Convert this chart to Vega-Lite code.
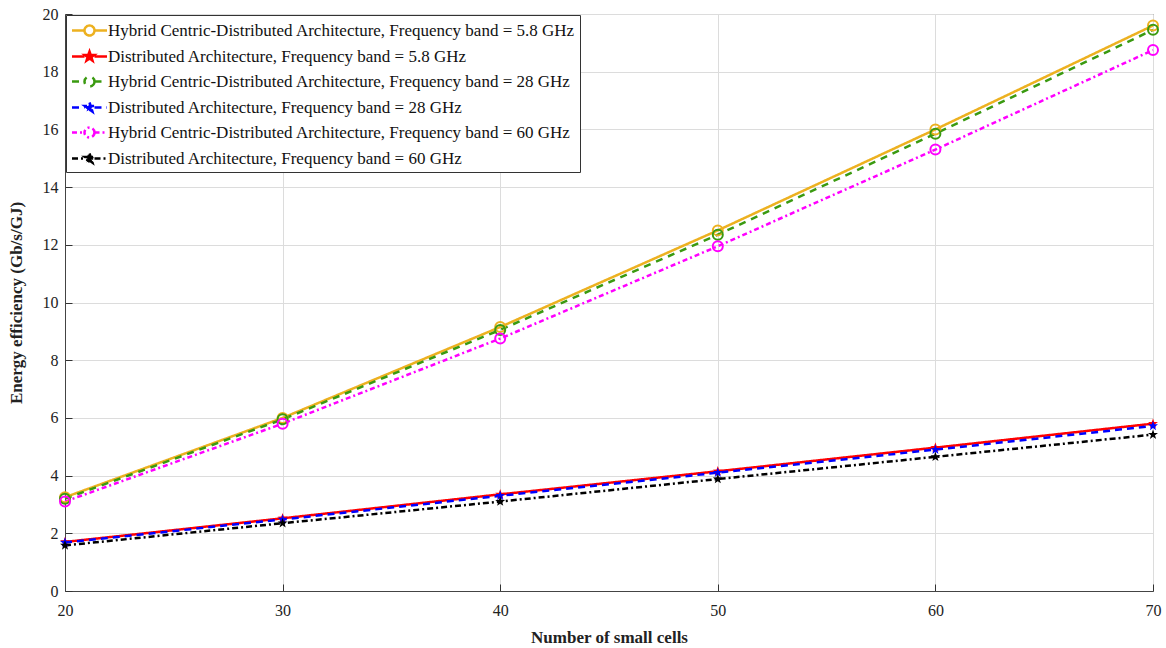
{
  "$schema": "https://vega.github.io/schema/vega-lite/v6.json",
  "width": 1088,
  "height": 577,
  "autosize": {"type": "none"},
  "padding": {"left": 65, "top": 14, "right": 13, "bottom": 57},
  "background": "white",
  "config": {
    "font": "Liberation Serif",
    "view": {"stroke": "#444", "strokeWidth": 1},
    "axis": {
      "labelFont": "Liberation Serif", "labelFontSize": 16, "labelColor": "#222",
      "titleFont": "Liberation Serif", "titleFontSize": 17, "titleFontWeight": "bold", "titleColor": "#222",
      "gridColor": "#dcdcdc", "gridWidth": 1, "domainColor": "#444", "tickColor": "#333", "labelFlush": false
    }
  },
  "data": {"values": [
    {"s": "Hybrid Centric-Distributed Architecture, Frequency band = 5.8 GHz", "x": 20, "y": 3.25},
    {"s": "Hybrid Centric-Distributed Architecture, Frequency band = 5.8 GHz", "x": 30, "y": 6.0},
    {"s": "Hybrid Centric-Distributed Architecture, Frequency band = 5.8 GHz", "x": 40, "y": 9.15},
    {"s": "Hybrid Centric-Distributed Architecture, Frequency band = 5.8 GHz", "x": 50, "y": 12.5},
    {"s": "Hybrid Centric-Distributed Architecture, Frequency band = 5.8 GHz", "x": 60, "y": 16.0},
    {"s": "Hybrid Centric-Distributed Architecture, Frequency band = 5.8 GHz", "x": 70, "y": 19.6},
    {"s": "Distributed Architecture, Frequency band = 5.8 GHz", "x": 20, "y": 1.7},
    {"s": "Distributed Architecture, Frequency band = 5.8 GHz", "x": 30, "y": 2.52},
    {"s": "Distributed Architecture, Frequency band = 5.8 GHz", "x": 40, "y": 3.35},
    {"s": "Distributed Architecture, Frequency band = 5.8 GHz", "x": 50, "y": 4.15},
    {"s": "Distributed Architecture, Frequency band = 5.8 GHz", "x": 60, "y": 4.97},
    {"s": "Distributed Architecture, Frequency band = 5.8 GHz", "x": 70, "y": 5.8},
    {"s": "Hybrid Centric-Distributed Architecture, Frequency band = 28 GHz", "x": 20, "y": 3.2},
    {"s": "Hybrid Centric-Distributed Architecture, Frequency band = 28 GHz", "x": 30, "y": 5.95},
    {"s": "Hybrid Centric-Distributed Architecture, Frequency band = 28 GHz", "x": 40, "y": 9.05},
    {"s": "Hybrid Centric-Distributed Architecture, Frequency band = 28 GHz", "x": 50, "y": 12.35},
    {"s": "Hybrid Centric-Distributed Architecture, Frequency band = 28 GHz", "x": 60, "y": 15.85},
    {"s": "Hybrid Centric-Distributed Architecture, Frequency band = 28 GHz", "x": 70, "y": 19.45},
    {"s": "Distributed Architecture, Frequency band = 28 GHz", "x": 20, "y": 1.68},
    {"s": "Distributed Architecture, Frequency band = 28 GHz", "x": 30, "y": 2.48},
    {"s": "Distributed Architecture, Frequency band = 28 GHz", "x": 40, "y": 3.3},
    {"s": "Distributed Architecture, Frequency band = 28 GHz", "x": 50, "y": 4.1},
    {"s": "Distributed Architecture, Frequency band = 28 GHz", "x": 60, "y": 4.9},
    {"s": "Distributed Architecture, Frequency band = 28 GHz", "x": 70, "y": 5.72},
    {"s": "Hybrid Centric-Distributed Architecture, Frequency band = 60 GHz", "x": 20, "y": 3.1},
    {"s": "Hybrid Centric-Distributed Architecture, Frequency band = 60 GHz", "x": 30, "y": 5.8},
    {"s": "Hybrid Centric-Distributed Architecture, Frequency band = 60 GHz", "x": 40, "y": 8.75},
    {"s": "Hybrid Centric-Distributed Architecture, Frequency band = 60 GHz", "x": 50, "y": 11.95},
    {"s": "Hybrid Centric-Distributed Architecture, Frequency band = 60 GHz", "x": 60, "y": 15.3},
    {"s": "Hybrid Centric-Distributed Architecture, Frequency band = 60 GHz", "x": 70, "y": 18.75},
    {"s": "Distributed Architecture, Frequency band = 60 GHz", "x": 20, "y": 1.58},
    {"s": "Distributed Architecture, Frequency band = 60 GHz", "x": 30, "y": 2.35},
    {"s": "Distributed Architecture, Frequency band = 60 GHz", "x": 40, "y": 3.1},
    {"s": "Distributed Architecture, Frequency band = 60 GHz", "x": 50, "y": 3.88},
    {"s": "Distributed Architecture, Frequency band = 60 GHz", "x": 60, "y": 4.65},
    {"s": "Distributed Architecture, Frequency band = 60 GHz", "x": 70, "y": 5.42}
  ]},
  "encoding": {
    "x": {"field": "x", "type": "quantitative", "title": "Number of small cells",
      "scale": {"domain": [20, 70], "nice": false},
      "axis": {"values": [20, 30, 40, 50, 60, 70], "ticks": true, "tickSize": -7, "labelPadding": 18, "titlePadding": 11}},
    "y": {"field": "y", "type": "quantitative", "title": "Energy efficiency (Gb/s/GJ)",
      "scale": {"domain": [0, 20], "nice": false},
      "axis": {"values": [0, 2, 4, 6, 8, 10, 12, 14, 16, 18, 20], "ticks": true, "tickSize": -7, "labelPadding": 14, "titlePadding": 17}},
    "color": {"field": "s", "type": "nominal", "title": null,
      "scale": {
        "domain": [
          "Hybrid Centric-Distributed Architecture, Frequency band = 5.8 GHz",
          "Distributed Architecture, Frequency band = 5.8 GHz",
          "Hybrid Centric-Distributed Architecture, Frequency band = 28 GHz",
          "Distributed Architecture, Frequency band = 28 GHz",
          "Hybrid Centric-Distributed Architecture, Frequency band = 60 GHz",
          "Distributed Architecture, Frequency band = 60 GHz"],
        "range": ["#EDB120", "#FF0000", "#3A9A10", "#0000FF", "#FF00FF", "#000000"]},
      "legend": {
        "orient": "top-left", "offset": 1, "padding": 4, "rowPadding": 4,
        "fillColor": "white", "strokeColor": "#333",
        "labelFont": "Liberation Serif", "labelFontSize": 17, "labelColor": "#111", "labelLimit": 600,
        "symbolSize": 400, "symbolOffset": 8, "labelOffset": 7,
        "encode": {"symbols": {"update": {
          "shape": {"signal": "indexof(datum.value, 'Hybrid') >= 0 ? 'M-1.75,0L-0.5,0M0.5,0L1.75,0M0.5,0A0.5,0.5 0 1 1 -0.5,0A0.5,0.5 0 1 1 0.5,0' : 'M-1.75,0L-0.5,0M0.5,0L1.75,0M0,-0.5L0.118,-0.162L0.476,-0.155L0.19,0.062L0.294,0.405L0,0.2L-0.294,0.405L-0.19,0.062L-0.476,-0.155L-0.118,-0.162Z'"},
          "fill": {"signal": "indexof(datum.value, 'Hybrid') >= 0 ? 'transparent' : scale('color', datum.value)"},
          "fillOpacity": {"signal": "indexof(datum.value, 'Hybrid') >= 0 ? 0 : 1"},
          "stroke": {"signal": "scale('color', datum.value)"},
          "strokeWidth": {"value": 2.5},
          "opacity": {"value": 1}
        }}}
      }}
  },
  "layer": [
    {
      "mark": {"type": "line", "strokeWidth": 2.5},
      "encoding": {
        "strokeDash": {"field": "s", "type": "nominal", "legend": null,
          "scale": {
            "domain": [
              "Hybrid Centric-Distributed Architecture, Frequency band = 5.8 GHz",
              "Distributed Architecture, Frequency band = 5.8 GHz",
              "Hybrid Centric-Distributed Architecture, Frequency band = 28 GHz",
              "Distributed Architecture, Frequency band = 28 GHz",
              "Hybrid Centric-Distributed Architecture, Frequency band = 60 GHz",
              "Distributed Architecture, Frequency band = 60 GHz"],
            "range": [[1, 0], [1, 0], [7, 6], [7, 5], [5, 3, 2, 3], [6, 3, 2, 3]]}}
      }
    },
    {
      "transform": [{"filter": "indexof(datum.s, 'Hybrid') >= 0"}],
      "mark": {"type": "point", "shape": "circle", "size": 100, "strokeWidth": 2, "filled": false, "opacity": 1}
    },
    {
      "transform": [{"filter": "indexof(datum.s, 'Hybrid') < 0"}],
      "mark": {"type": "point", "shape": "M0,-1L0.235,-0.324L0.951,-0.309L0.38,0.124L0.588,0.809L0,0.4L-0.588,0.809L-0.38,0.124L-0.951,-0.309L-0.235,-0.324Z", "size": 110, "strokeWidth": 1.5, "filled": true, "opacity": 1}
    }
  ]
}
